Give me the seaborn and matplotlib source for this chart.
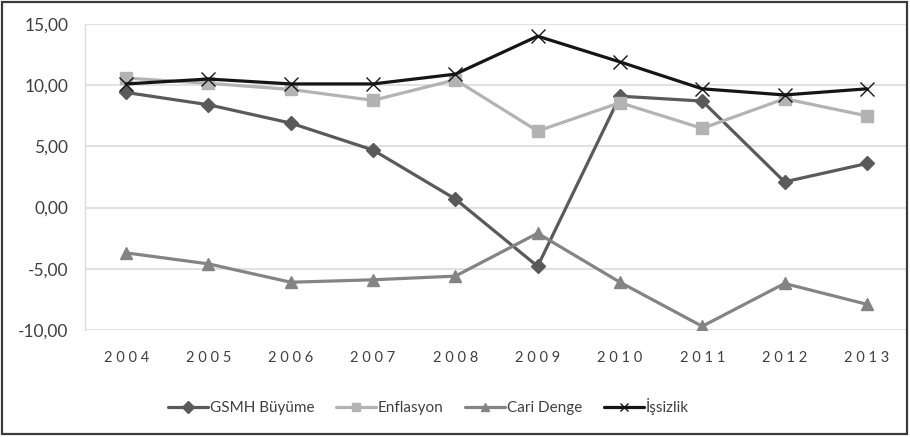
import matplotlib
matplotlib.use("Agg")
import matplotlib.pyplot as plt
from matplotlib.patches import Rectangle
import seaborn as sns
import pandas as pd

years = [2004, 2005, 2006, 2007, 2008, 2009, 2010, 2011, 2012, 2013]
gsmh_buyume = [9.4, 8.4, 6.9, 4.7, 0.7, -4.8, 9.1, 8.7, 2.1, 3.6]
enflasyon = [10.58, 10.15, 9.65, 8.76, 10.44, 6.25, 8.57, 6.47, 8.89, 7.49]
cari_denge = [-3.7, -4.6, -6.1, -5.9, -5.6, -2.1, -6.1, -9.7, -6.2, -7.9]
issizlik = [10.1, 10.5, 10.1, 10.1, 10.9, 14.0, 11.9, 9.7, 9.2, 9.7]
series_names = ["GSMH Büyüme", "Enflasyon", "Cari Denge", "İşsizlik"]
y_ticks = [-10, -5, 0, 5, 10, 15]

sns.set_theme(style="white")
plt.rcParams["font.family"] = ["Lato", "DejaVu Sans"]

frames = []
for name, vals in zip(series_names, [gsmh_buyume, enflasyon, cari_denge, issizlik]):
    frames.append(pd.DataFrame({"Yıl": years, "Değer": vals, "Seri": name}))
df = pd.concat(frames, ignore_index=True)

palette = {"GSMH Büyüme": "#5a5a5a", "Enflasyon": "#b3b3b3",
           "Cari Denge": "#848484", "İşsizlik": "#151515"}
markers = {"GSMH Büyüme": "D", "Enflasyon": "s", "Cari Denge": "^", "İşsizlik": "x"}
msizes = {"GSMH Büyüme": 7, "Enflasyon": 9, "Cari Denge": 9, "İşsizlik": 10}

fig = plt.figure(figsize=(9.1, 4.37), dpi=100)
ax = fig.add_axes([0.0934, 0.2449, 0.9044, 0.7003])

for name in series_names:
    sub = df[df["Seri"] == name]
    sns.lineplot(data=sub, x="Yıl", y="Değer", ax=ax, color=palette[name],
                 marker=markers[name], markersize=msizes[name], linewidth=2.3,
                 markeredgecolor=palette[name], markeredgewidth=1.0,
                 label=name, legend=False)

ax.set_xlim(2003.5, 2013.5)
ax.set_ylim(-10, 15)
ax.set_yticks(y_ticks)
ax.set_yticklabels([f"{v:.2f}".replace(".", ",") for v in y_ticks],
                   fontsize=12.5, color="#404040")
ax.set_xticks(years)
ax.set_xticklabels([" ".join(str(y)) for y in years], fontsize=10.5, color="#404040")
ax.tick_params(axis="y", length=0, pad=12)
ax.tick_params(axis="x", length=0, pad=15)
ax.set_xlabel("")
ax.set_ylabel("")
ax.grid(axis="y", color="#dcdcdc", linewidth=1.2)
for s in ["top", "right", "bottom"]:
    ax.spines[s].set_visible(False)
ax.spines["left"].set_color("#dcdcdc")
ax.spines["left"].set_linewidth(1.0)

handles, labels = ax.get_legend_handles_labels()
leg = fig.legend(handles, labels, loc="center", bbox_to_anchor=(0.471, 0.07), ncol=4,
                 frameon=False, fontsize=11, handlelength=2.6, columnspacing=1.4,
                 handletextpad=0.15, labelcolor="#404040")
for h in leg.legend_handles:
    h.set_markersize(6)

fig.patches.append(Rectangle((0.002, 0.008), 0.995, 0.988, transform=fig.transFigure,
                             fill=False, edgecolor="#3a3a3a", linewidth=1.6))

fig.savefig("out.png", dpi=100)
